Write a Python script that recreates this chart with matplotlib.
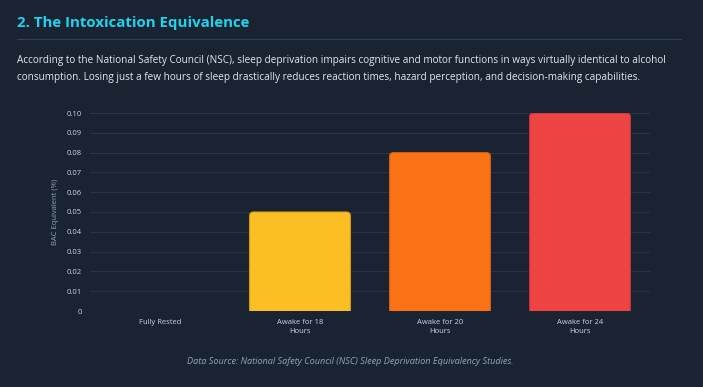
import matplotlib.pyplot as plt
from matplotlib.patches import FancyBboxPatch

# --- Data ---
categories = ["Fully Rested", "Awake for 18\nHours", "Awake for 20\nHours", "Awake for 24\nHours"]
bac_values = [0.0, 0.05, 0.08, 0.10]
bar_colors = ["#22c55e", "#fbbf24", "#f97316", "#ef4444"]
edge_colors = ["#16a34a", "#d89f14", "#d9620f", "#c93636"]
y_ticks = [0, 0.01, 0.02, 0.03, 0.04, 0.05, 0.06, 0.07, 0.08, 0.09, 0.10]
y_tick_labels = ["0", "0.01", "0.02", "0.03", "0.04", "0.05", "0.06", "0.07", "0.08", "0.09", "0.10"]

BG = "#1a2332"
W, H = 703, 387

plt.rcParams['font.family'] = ['Open Sans', 'DejaVu Sans']

fig = plt.figure(figsize=(W / 100, H / 100), dpi=100, facecolor=BG)

# --- Header text ---
fig.text(17 / W, 1 - 23 / H, "2. The Intoxication Equivalence", color="#22d3ee",
         fontsize=10.8, fontweight="bold", va="center", ha="left")
fig.add_artist(plt.Line2D([17 / W, 681 / W], [1 - 39 / H, 1 - 39 / H], color="#334155", lw=0.8))
para = ("According to the National Safety Council (NSC), sleep deprivation impairs cognitive and motor functions in ways virtually identical to alcohol\n"
        "consumption. Losing just a few hours of sleep drastically reduces reaction times, hazard perception, and decision-making capabilities.")
fig.text(17 / W, 1 - 69 / H, para, color="#e2e8f0", fontsize=7.2, va="center", ha="left", linespacing=1.75)

# --- Chart ---
ax = fig.add_axes([90 / W, 1 - 311 / H, 560 / W, 198 / H])
ax.set_facecolor(BG)
x = range(len(categories))
bars = ax.bar(x, bac_values, width=0.72, color=bar_colors)

# swap plain rectangles for top-rounded ones
r_px = 4
px_x = 560 / len(categories)
px_y = 198 / 0.10
for b, fc, ec in zip(bars, bar_colors, edge_colors):
    b.remove()
    if b.get_height() <= 0:
        continue
    r = r_px / px_x
    pad = r_px / px_y
    patch = FancyBboxPatch((b.get_x() + r, -pad * 2 + r * (px_x / px_y)),
                           b.get_width() - 2 * r, b.get_height() + pad * 2 - 2 * r * (px_x / px_y),
                           boxstyle=f"round,pad={r},rounding_size={r}",
                           mutation_aspect=px_x / px_y,
                           facecolor=fc, edgecolor=ec, lw=0.8, clip_on=True)
    ax.add_patch(patch)

ax.set_xlim(-0.5, len(categories) - 0.5)
ax.set_yticks(y_ticks, y_tick_labels)
ax.set_ylim(0, 0.10)
ax.set_xticks(list(x), categories, linespacing=1.3)
ax.tick_params(axis="y", length=0, pad=6, labelsize=5.5, labelcolor="#cbd5e1")
ax.tick_params(axis="x", length=0, pad=6, labelsize=5.5, labelcolor="#cbd5e1")
ax.grid(axis="y", color="#2a3547", lw=0.7)
ax.set_axisbelow(True)
for s in ax.spines.values():
    s.set_visible(False)
ax.axhline(0, color="#2a3547", lw=0.8, zorder=0)
ax.set_ylabel("BAC Equivalent (%)", color="#94a3b8", fontsize=5.5, labelpad=5)

fig.text(350 / W, 1 - 362 / H, "Data Source: National Safety Council (NSC) Sleep Deprivation Equivalency Studies.",
         color="#94a3b8", fontsize=6.6, style="italic", ha="center", va="center")

fig.savefig("out.png", dpi=100, facecolor=BG)
